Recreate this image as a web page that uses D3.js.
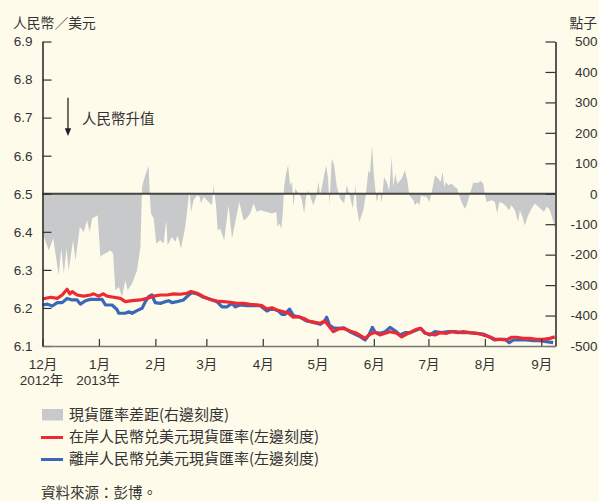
<!DOCTYPE html>
<html><head><meta charset="utf-8">
<script src="https://cdn.jsdelivr.net/npm/d3@7"></script>
<style>
html,body{margin:0;padding:0;background:#FEFBEA;}
svg{display:block;}
text{font-family:"Liberation Sans","Noto Sans CJK TC",sans-serif;fill:#333;}
.cjk{font-family:"Noto Sans CJK TC","Liberation Sans",sans-serif;}
</style></head>
<body>
<svg id="c" width="599" height="501"></svg>
<script>
// ---- data (day offsets from 2012-12-01) ----
const spreadDays = [0,3.5,5.9,8.9,10.3,11.7,13.2,14.4,16.8,18.1,20.5,22.7,24.5,25.9,27.3,30.3,31.8,32.7,37.3,38.8,40.0,41.9,43.7,45.5,46.8,49.2,51.9,53.8,54.7,55.6,57.4,58.3,58.9,59.6,61.1,62.5,64.7,66.5,68.0,68.7,71.1,73.0,74.2,76.1,78.4,80.3,80.8,81.6,83.0,84.9,86.3,87.1,88.5,90.3,93.1,94.0,94.5,95.4,96.2,97.6,99.8,102.2,104.1,108.1,110.4,111.9,114.1,115.9,117.8,119.6,123.3,126.0,128.4,129.1,130.2,131.1,132.0,132.7,133.8,134.9,136.0,137.1,137.8,138.9,140.0,141.5,142.5,143.7,144.8,146.1,147.4,148.8,150.3,151.6,152.5,154.0,155.8,156.9,157.6,158.9,160.2,161.7,163.5,165.7,167.1,169.0,170.4,171.9,172.6,174.0,176.2,177.7,179.0,179.9,181.0,182.1,183.6,184.7,185.4,186.3,187.6,189.1,190.5,191.8,192.7,193.8,194.9,197.3,199.1,200.4,201.5,203.7,204.6,205.9,207.0,207.9,209.2,211.0,212.5,213.8,215.6,217.4,218.7,219.8,220.7,221.6,222.9,224.8,226.5,227.8,228.9,230.2,232.0,233.0,234.8,236.6,239.4,240.7,242.1,243.0,243.9,246.7,248.5,249.8,250.9,253.0,254.9,256.2,257.6,259.5,261.3,262.2,263.7,264.9,266.8,268.6,270.4,273.6,275.5,276.8,278.3,279.6,280.9,281.6];
const spreadPts = [-130,-186,-146,-268,-180,-262,-179,-252,-153,-219,-109,-126,-87,-126,-81,-71,-208,-202,-186,-196,-317,-306,-339,-285,-317,-295,-252,-175,22,44,77,90,0,-64,-81,-163,-153,-163,-87,-169,-142,-158,-136,-180,-109,-10,11,-60,-21,-5,-10,-32,-10,-21,-38,28,0,-43,-120,-115,-153,-38,-147,-27,-87,-82,-65,-32,-60,-54,-60,-65,-60,-109,-98,-115,-65,22,66,94,28,39,-43,17,6,-5,-21,-65,-10,11,-16,-38,-10,39,-5,39,94,50,-38,115,94,22,-16,-32,28,-10,-49,28,-43,-93,-54,0,77,66,159,55,-27,0,11,-32,55,39,11,121,22,66,33,50,77,44,-5,-21,-38,-27,-38,-5,-9,-10,-27,6,61,50,39,72,22,39,28,33,22,17,-5,-27,-49,-38,0,36,36,42,33,0,-27,-21,-27,-65,-27,-32,-43,-54,-38,-54,-93,-54,-76,-104,-71,-49,-32,-49,-60,-43,-49,-71,-98,-115];

const onshoreDays = [0,4.4,8.1,10.8,13.5,15.0,16.3,19.0,22.7,26.3,28.1,30.9,33.3,35.5,39.1,42.8,45.5,49.2,53.8,57.4,61.1,64.7,68.4,72.0,75.7,79.4,81.6,84.9,88.5,92.2,95.8,99.5,103.1,106.8,110.4,114.1,117.8,120.5,123.3,126.0,128.7,132.4,135.1,137.8,140.6,143.3,146.1,149.8,152.5,155.2,157.6,159.8,162.5,165.3,168.9,172.6,177.2,179.9,182.7,185.4,188.2,190.9,194.6,197.3,200.1,202.8,205.5,207.7,210.1,212.8,215.6,218.3,222.0,224.7,228.4,231.1,234.8,238.5,242.1,245.8,248.5,251.2,254.9,257.7,260.4,264.0,267.7,271.4,275.0,278.7,281.4];
const onshoreRate = [6.2235,6.228,6.225,6.234,6.249,6.237,6.243,6.234,6.231,6.234,6.237,6.231,6.237,6.231,6.228,6.225,6.2165,6.219,6.221,6.225,6.231,6.234,6.234,6.237,6.236,6.2385,6.243,6.2385,6.2295,6.222,6.218,6.2165,6.215,6.212,6.212,6.2095,6.208,6.206,6.197,6.2005,6.1945,6.190,6.186,6.1755,6.177,6.173,6.1657,6.162,6.1597,6.1657,6.1507,6.1376,6.1447,6.1465,6.1394,6.1334,6.120,6.131,6.136,6.129,6.1334,6.1376,6.1334,6.124,6.1315,6.1376,6.144,6.1465,6.1334,6.1315,6.129,6.135,6.1334,6.1376,6.135,6.1376,6.135,6.1334,6.129,6.124,6.1176,6.1176,6.1158,6.123,6.123,6.120,6.120,6.1176,6.1176,6.120,6.124];

const offshoreDays = [0,2.7,5.4,8.1,10.8,13.5,16.3,19.0,20.8,23.6,26.3,30.0,32.7,34.6,38.2,40.9,41.9,45.5,47.4,49.2,51.9,54.7,56.5,58.3,60.1,61.9,64.7,67.4,69.3,71.1,73.9,77.5,80.3,82.1,84.9,88.5,92.2,95.8,98.6,101.4,104.1,105.9,108.6,112.3,115.9,119.6,123.3,126.0,129.6,131.5,133.3,135.7,137.8,141.5,145.2,148.8,152.5,154.7,156.1,157.6,159.8,162.5,165.3,168.9,173.5,177.2,179.5,181.2,182.7,185.4,188.2,190.9,193.7,196.4,199.1,201.9,205.5,207.7,210.1,212.8,215.6,219.2,222.9,226.6,230.2,233.9,238.5,242.1,245.8,248.5,251.2,254.0,256.4,258.6,262.2,265.9,269.5,273.2,276.8,280.5];
const offshoreRate = [6.2077,6.210,6.205,6.214,6.214,6.225,6.221,6.221,6.210,6.219,6.2225,6.2225,6.2225,6.2077,6.2077,6.196,6.186,6.186,6.190,6.186,6.193,6.199,6.2165,6.2295,6.234,6.214,6.212,6.2165,6.219,6.214,6.2165,6.221,6.234,6.240,6.237,6.228,6.223,6.2165,6.203,6.203,6.212,6.203,6.208,6.206,6.206,6.206,6.192,6.199,6.192,6.1833,6.1833,6.197,6.1797,6.1755,6.1657,6.162,6.157,6.164,6.1755,6.155,6.148,6.1465,6.148,6.1376,6.127,6.1158,6.131,6.149,6.136,6.1334,6.1376,6.149,6.140,6.129,6.135,6.135,6.142,6.1465,6.135,6.129,6.1376,6.135,6.1376,6.1376,6.135,6.135,6.1334,6.1315,6.123,6.1158,6.1176,6.1176,6.1087,6.1158,6.1158,6.1158,6.114,6.114,6.1113,6.1087];

const leftTicks = [6.1,6.2,6.3,6.4,6.5,6.6,6.7,6.8,6.9];
const rightTicks = [-500,-400,-300,-200,-100,0,100,200,300,400,500];
const monthLabels = ["12月","1月","2月","3月","4月","5月","6月","7月","8月","9月"];
const yearLabels = ["2012年","2013年"];
const legendLabels = ["現貨匯率差距(右邊刻度)","在岸人民幣兑美元現貨匯率(左邊刻度)","離岸人民幣兑美元現貨匯率(左邊刻度)"];

// ---- setup ----
const svg = d3.select("#c");
const base = Date.UTC(2012,11,1);
const toDate = d => new Date(base + d*864e5);
const X0=42.5, X1=555.5, Y0=346, Y1=41.5;
const x = d3.scaleUtc().domain([toDate(0), toDate(281.8)]).range([X0,X1]);
const yL = d3.scaleLinear().domain([6.1,6.9]).range([Y0,Y1]);
const yR = d3.scaleLinear().domain([-500,500]).range([Y0,Y1]);

// spread area
const spread = spreadDays.map((d,i)=>({t:toDate(d), v:spreadPts[i]}));
svg.append("path").datum(spread)
  .attr("fill","#C8C9CB")
  .attr("d", d3.area().x(d=>x(d.t)).y0(yR(0)).y1(d=>yR(d.v)));

// lines
const off = offshoreDays.map((d,i)=>({t:toDate(d), v:offshoreRate[i]}));
const on = onshoreDays.map((d,i)=>({t:toDate(d), v:onshoreRate[i]}));
const line = d3.line().x(d=>x(d.t)).y(d=>yL(d.v));
svg.append("path").datum(off).attr("fill","none").attr("stroke","#3A68B8").attr("stroke-width",3.2).attr("stroke-linejoin","round").attr("d",line);
svg.append("path").datum(on).attr("fill","none").attr("stroke","#EC2A33").attr("stroke-width",3.2).attr("stroke-linejoin","round").attr("d",line);

// zero line
svg.append("line").attr("x1",X0).attr("x2",X1).attr("y1",yR(0)).attr("y2",yR(0)).attr("stroke","#454545").attr("stroke-width",2);

// left axis
const gL = svg.append("g").attr("transform",`translate(${X0},0)`)
  .call(d3.axisLeft(yL).tickValues(leftTicks).tickFormat(d3.format(".1f")).tickSizeInner(-9).tickSizeOuter(0).tickPadding(10));
gL.select(".domain").attr("stroke","#222").attr("stroke-width",1.5);
gL.selectAll(".tick line").attr("stroke","#333").attr("stroke-width",1.2);
gL.selectAll(".tick text").attr("font-size",13.5).attr("fill","#333").attr("font-family","Liberation Sans");

// right axis
const gR = svg.append("g").attr("transform",`translate(${X1},0)`)
  .call(d3.axisRight(yR).tickValues(rightTicks).tickFormat(d=>String(d)).tickSizeInner(-10).tickSizeOuter(0).tickPadding(10));
gR.select(".domain").attr("stroke","#222").attr("stroke-width",1.5);
gR.selectAll(".tick line").attr("stroke","#333").attr("stroke-width",1.2);
gR.selectAll(".tick text").attr("font-size",13.5).attr("fill","#333").attr("text-anchor","end").attr("x",42).attr("font-family","Liberation Sans");

// x axis
const months = d3.utcMonth.range(toDate(0), toDate(281.8));
const gX = svg.append("g").attr("transform",`translate(0,${Y0})`)
  .call(d3.axisBottom(x).tickValues(months).tickFormat((d,i)=>monthLabels[i]).tickSizeInner(-7).tickSizeOuter(0).tickPadding(13));
gX.select(".domain").attr("stroke","#777").attr("stroke-width",1.5);
gX.selectAll(".tick line").attr("stroke","#333").attr("stroke-width",1.2);
gX.selectAll(".tick text").attr("font-size",13.5).attr("fill","#333").attr("font-family","Liberation Sans, Noto Sans CJK TC");
yearLabels.forEach((t,i)=>{
  svg.append("text").attr("x",x(months[i])-1).attr("y",385).attr("text-anchor","middle")
    .attr("font-size",13.5).text(t);
});

// axis titles
svg.append("text").attr("class","cjk").attr("x",13).attr("y",28).attr("font-size",13.8).text("人民幣／美元");
svg.append("text").attr("class","cjk").attr("x",597).attr("y",28).attr("text-anchor","end").attr("font-size",13.8).text("點子");

// annotation arrow
const ax = x(toDate(14));
svg.append("line").attr("x1",ax).attr("x2",ax).attr("y1",yL(6.752)).attr("y2",yL(6.668)).attr("stroke","#222").attr("stroke-width",1.3);
svg.append("path").attr("fill","#222")
  .attr("d",`M${ax-3.2},${yL(6.672)} L${ax+3.2},${yL(6.672)} L${ax},${yL(6.652)} Z`);
svg.append("text").attr("class","cjk").attr("x",82).attr("y",124).attr("font-size",14.5).text("人民幣升值");

// legend
const lg = svg.append("g");
lg.append("rect").attr("x",42).attr("y",409).attr("width",21).attr("height",11.5).attr("fill","#C8C9CB");
lg.append("line").attr("x1",41).attr("x2",63).attr("y1",437.5).attr("y2",437.5).attr("stroke","#EC2A33").attr("stroke-width",3);
lg.append("line").attr("x1",41).attr("x2",63).attr("y1",459.5).attr("y2",459.5).attr("stroke","#3A68B8").attr("stroke-width",3);
[419.5,442,464].forEach((yy,i)=>{
  lg.append("text").attr("class","cjk").attr("x",69).attr("y",yy).attr("font-size",15).text(legendLabels[i]);
});
svg.append("text").attr("class","cjk").attr("x",41).attr("y",498).attr("font-size",14.5).text("資料來源：彭博。");
</script>
</body></html>
